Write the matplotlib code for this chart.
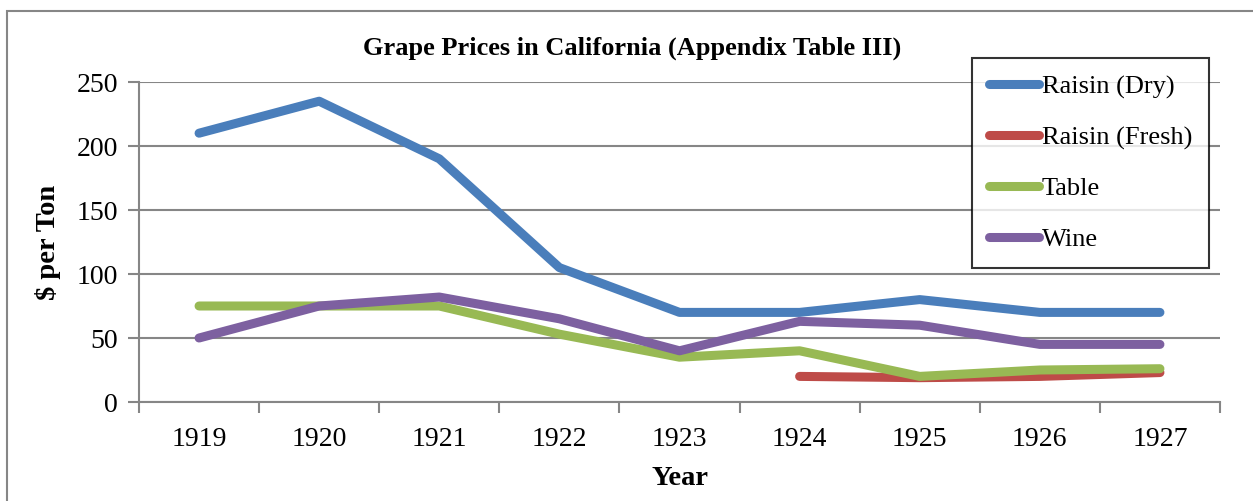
import matplotlib
matplotlib.use("Agg")
import matplotlib.pyplot as plt
from matplotlib.patches import Rectangle

years = ["1919", "1920", "1921", "1922", "1923", "1924", "1925", "1926", "1927"]
raisin_dry = [210, 235, 190, 105, 70, 70, 80, 70, 70]
raisin_fresh = [None, None, None, None, None, 20, 19, 20, 23]
table = [75, 75, 75, 53, 35, 40, 20, 25, 26]
wine = [50, 75, 82, 65, 40, 63, 60, 45, 45]

series = [
    ("Raisin (Dry)", raisin_dry, "#4A7EBB"),
    ("Raisin (Fresh)", raisin_fresh, "#BE4B48"),
    ("Table", table, "#98B954"),
    ("Wine", wine, "#7D60A0"),
]

plt.rcParams['font.family'] = ['Liberation Serif', 'DejaVu Serif']

W, H = 1253, 501
fig = plt.figure(figsize=(W / 100, H / 100), dpi=100)
ax = fig.add_axes([139 / W, 1 - 402 / H, (1220 - 139) / W, (402 - 82) / H])

fig.patches.append(Rectangle((7 / W, -0.1), 1.2, 1 - 11 / H + 0.1, transform=fig.transFigure,
                             fill=False, edgecolor="#868686", linewidth=1.5))

x = list(range(len(years)))
for name, vals, col in series:
    xs = [xi for xi, v in zip(x, vals) if v is not None]
    ys = [v for v in vals if v is not None]
    ax.plot(xs, ys, color=col, linewidth=6.5, solid_capstyle="round",
            solid_joinstyle="round", label=name, zorder=3)

ax.set_xlim(-0.5, len(years) - 0.5)
ax.set_ylim(0, 250)
ax.set_yticks(range(0, 251, 50))
ax.set_xticks(x)
ax.set_xticklabels(years)
ax.set_xticks([i - 0.5 for i in range(len(years) + 1)], minor=True)
ax.tick_params(axis="x", which="major", length=0, pad=18, labelsize=20)
ax.tick_params(axis="x", which="minor", length=8, width=1.5, color="#868686", direction="out")
ax.tick_params(axis="y", length=8, width=1.5, color="#868686", direction="out", pad=7, labelsize=20)
ax.grid(axis="y", color="#868686", linewidth=1.5, zorder=0)
for s in ["top", "right"]:
    ax.spines[s].set_visible(False)
for s in ["left", "bottom"]:
    ax.spines[s].set_color("#868686")
    ax.spines[s].set_linewidth(1.5)

ax.set_xlabel("Year", fontsize=20.5, fontweight="bold", labelpad=10)
ax.set_ylabel("$ per Ton", fontsize=20.5, fontweight="bold", labelpad=11)
fig.text(632 / W, 1 - 48 / H, "Grape Prices in California (Appendix Table III)",
         ha="center", va="center", fontsize=19, fontweight="bold")

leg = ax.legend(loc="upper left", bbox_to_anchor=(972 / W, 1 - 58 / H), bbox_transform=fig.transFigure,
                frameon=True, fancybox=False, fontsize=19, handlelength=1.9, handletextpad=0.12,
                labelspacing=1.03, borderpad=0.63, borderaxespad=0)
leg.get_frame().set_edgecolor("black")
leg.get_frame().set_linewidth(1.5)
leg.set_zorder(5)

fig.savefig("out.png", dpi=100)
